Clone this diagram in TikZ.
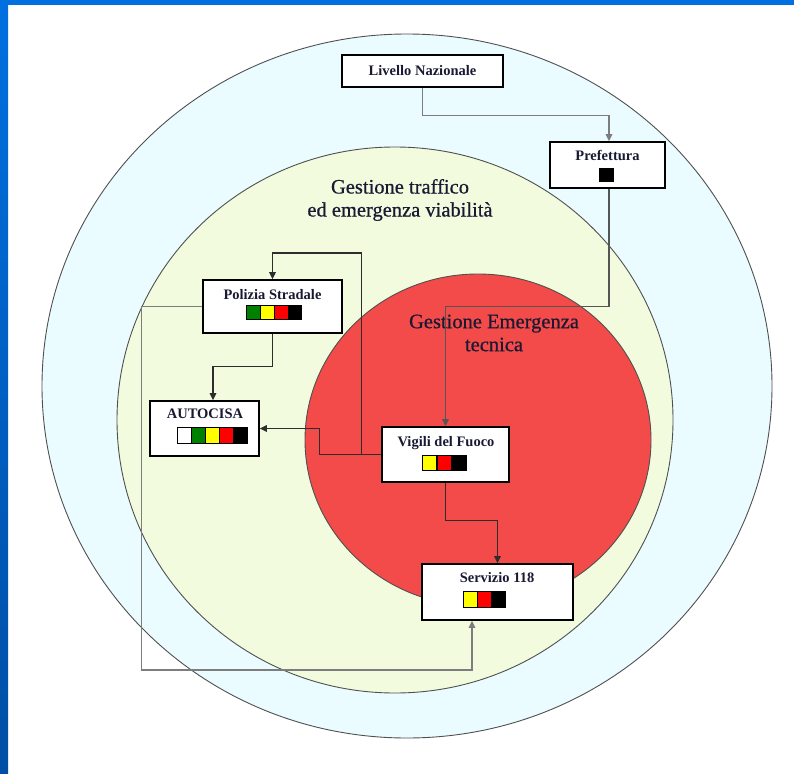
\documentclass[tikz,border=0pt]{standalone}
\usepackage{fontspec}
\setmainfont{Liberation Serif}
\newfontfamily\zonefont[FakeBold=0.6]{Liberation Serif}
\usetikzlibrary{arrows.meta}
\definecolor{outerc}{RGB}{234,252,255}
\definecolor{midc}{RGB}{242,251,222}
\definecolor{redc}{RGB}{243,74,74}
\definecolor{ringc}{RGB}{80,80,80}
\definecolor{txtc}{RGB}{25,25,50}
\definecolor{darkln}{RGB}{45,45,45}
\definecolor{grayln}{RGB}{125,125,125}
\definecolor{midln}{RGB}{85,85,85}
\definecolor{bluetop}{RGB}{0,112,224}
\definecolor{bluebot}{RGB}{0,78,165}
\definecolor{gcell}{RGB}{0,128,0}
\definecolor{ycell}{RGB}{255,255,0}
\definecolor{rcell}{RGB}{255,0,0}
\tikzset{
  box/.style={draw=black, line width=1.6pt, fill=white, rectangle, inner sep=0pt},
  lbl/.style={font=\bfseries\fontsize{14.5}{16}\selectfont, text=txtc, inner sep=0pt},
  zone/.style={font=\zonefont\fontsize{20.5}{23}\selectfont, text=txtc, align=center, inner sep=0pt},
  ring/.style={draw=ringc, line width=0.9pt},
  conn/.style={draw=darkln, line width=1.2pt, -{Triangle[length=7pt,width=6.5pt]}},
  conng/.style={draw=grayln, line width=1.3pt, -{Triangle[length=7pt,width=6.5pt]}},
  connm/.style={draw=midln, line width=1.3pt, -{Triangle[length=7pt,width=6.5pt]}},
  cell/.style={draw=black, line width=1pt}
}
\begin{document}
\begin{tikzpicture}[x=1pt,y=-1pt]
\useasboundingbox (0,0) rectangle (794,773);
\fill[white] (0,0) rectangle (794,773);
% frame
\shade[top color=bluetop, bottom color=bluebot] (0,0) rectangle (8,773);
\fill[bluetop] (0,0) rectangle (794,5);
% zones
\filldraw[ring, fill=outerc] (407,386) ellipse [x radius=365, y radius=352];
\filldraw[ring, fill=midc] (395,420) ellipse [x radius=278, y radius=273];
\filldraw[ring, fill=redc] (478,440) ellipse [x radius=173, y radius=166];
\node[zone] (zt) at (400,200) {Gestione traffico\\ed emergenza viabilità};
\node[zone] (ze) at (494,333) {Gestione Emergenza\\tecnica};
% boxes
\node[box, minimum width=161pt, minimum height=32pt] (liv) at (422.5,71) {};
\node[box, minimum width=115pt, minimum height=46pt] (pref) at (607.5,165) {};
\node[box, minimum width=139pt, minimum height=53pt] (pol) at (272.5,306.5) {};
\node[box, minimum width=109pt, minimum height=55pt] (auto) at (204.5,428.5) {};
\node[box, minimum width=127pt, minimum height=55pt] (vig) at (445.5,454.5) {};
\node[box, minimum width=151pt, minimum height=56pt] (serv) at (497.5,592) {};
% labels
\node[lbl] (livt) at (422.5,71) {Livello Nazionale};
\node[lbl] (preft) at (607.5,155) {Prefettura};
\node[lbl] (polt) at (272.5,295) {Polizia Stradale};
\node[lbl] (autot) at (205,414) {AUTOCISA};
\node[lbl] (vigt) at (446,443) {Vigili del Fuoco};
\node[lbl] (servt) at (497,578) {Servizio 118};
% colour bars
\fill[black] (599,168) rectangle (614,182);
\filldraw[cell, fill=gcell] (246,305) rectangle (260,319);
\filldraw[cell, fill=ycell] (260,305) rectangle (274,319);
\filldraw[cell, fill=rcell] (274,305) rectangle (288,319);
\filldraw[cell, fill=black] (288,305) rectangle (301,319);
\filldraw[cell, fill=white] (177,427) rectangle (191,443);
\filldraw[cell, fill=gcell] (191,427) rectangle (205,443);
\filldraw[cell, fill=ycell] (205,427) rectangle (219,443);
\filldraw[cell, fill=rcell] (219,427) rectangle (233,443);
\filldraw[cell, fill=black] (233,427) rectangle (247,443);
\filldraw[cell, fill=ycell] (422,455) rectangle (436,470);
\filldraw[cell, fill=rcell] (437,455) rectangle (451,470);
\filldraw[cell, fill=black] (451,455) rectangle (466,470);
\filldraw[cell, fill=ycell] (463,591) rectangle (477,607);
\filldraw[cell, fill=rcell] (477,591) rectangle (491,607);
\filldraw[cell, fill=black] (491,591) rectangle (505,607);
% connectors
\draw[conng] (liv.south) -- ++(0,28) -| ([xshift=1.5pt]pref.north);
\draw[connm] ([xshift=1.5pt]pref.south) -- ++(0,118) -| (vig.north);
\draw[conn] (vig.west) -- ++(-20,0) -- ++(0,-201.5) -| (pol.north);
\draw[conn] (vig.west) -- ++(-62,0) |- (auto.east);
\draw[conn] (pol.south) -- ++(0,33) -| ([xshift=8.5pt]auto.north);
\draw[conng] (pol.west) -| ++(-61,363.5) -| ([xshift=-25.5pt]serv.south);
\draw[conn] (vig.south) -- ++(0,38) -| (serv.north);
\end{tikzpicture}
\end{document}
